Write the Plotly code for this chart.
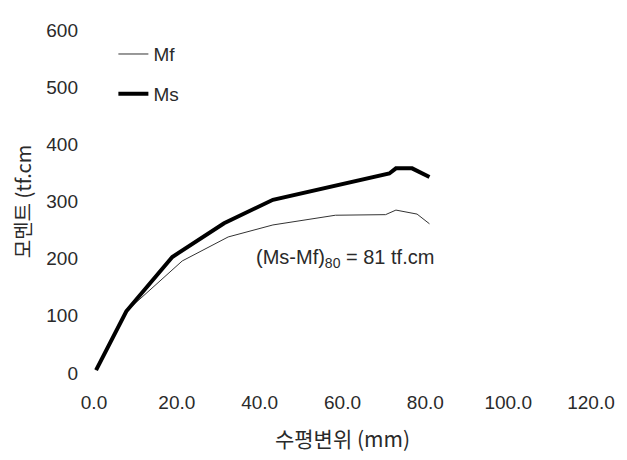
import plotly.graph_objects as go

# displacement (mm) and moment (tf.cm)
ms_x = [0.5, 7.8, 18.9, 31.4, 43.2, 58.0, 71.3, 72.9, 76.8, 81.0]
ms_y = [5, 108, 203, 262, 303, 328, 349, 358, 358, 343]

mf_x = [0.5, 7.8, 21.3, 32.4, 43.2, 58.3, 70.4, 72.9, 78.0, 81.0]
mf_y = [5, 108, 196, 238, 259, 276, 277, 285, 278, 261]

x_ticks = [0, 20, 40, 60, 80, 100, 120]
x_tick_labels = ["0.0", "20.0", "40.0", "60.0", "80.0", "100.0", "120.0"]
y_ticks = [0, 100, 200, 300, 400, 500, 600]

note_text = "(Ms-Mf)<sub>80</sub> = 81 tf.cm"
note_x, note_y = 60.5, 201

TXT = "#2a2a2a"
LAT = "Liberation Sans"
KOR = "Noto Sans CJK KR"

fig = go.Figure()
fig.add_trace(go.Scatter(x=mf_x, y=mf_y, mode="lines", name="Mf",
                         legendgroup="a",
                         line=dict(color="#333333", width=1)))
fig.add_trace(go.Scatter(x=ms_x, y=ms_y, mode="lines", name="Ms",
                         legendgroup="b",
                         line=dict(color="#000000", width=4)))

fig.add_annotation(x=note_x, y=note_y, text=note_text, showarrow=False,
                   font=dict(family=LAT, size=20, color=TXT))

fig.update_layout(
    width=619, height=452,
    margin=dict(l=82, r=29, t=12, b=82),
    paper_bgcolor="white", plot_bgcolor="white",
    font=dict(family=LAT, size=19, color=TXT),
    showlegend=True,
    legend=dict(x=0.039, y=0.985, xanchor="left", yanchor="top",
                bgcolor="rgba(0,0,0,0)", traceorder="grouped",
                tracegroupgap=12, itemwidth=30,
                font=dict(family=LAT, size=19, color=TXT)),
    xaxis=dict(range=[0, 120], tickvals=x_ticks, ticktext=x_tick_labels,
               showgrid=False, zeroline=False, showline=False, ticks="",
               ticklabelstandoff=16,
               tickfont=dict(family=LAT, size=19, color=TXT),
               title=dict(text="수평변위 (mm)", standoff=20,
                          font=dict(family=KOR, size=21, color=TXT))),
    yaxis=dict(range=[0, 600], tickvals=y_ticks,
               showgrid=False, zeroline=False, showline=False, ticks="",
               ticklabelstandoff=15,
               tickfont=dict(family=LAT, size=19, color=TXT),
               title=dict(text="모멘트 (tf.cm", standoff=12,
                          font=dict(family=KOR, size=20, color=TXT))),
)

fig.write_html("out.html")
